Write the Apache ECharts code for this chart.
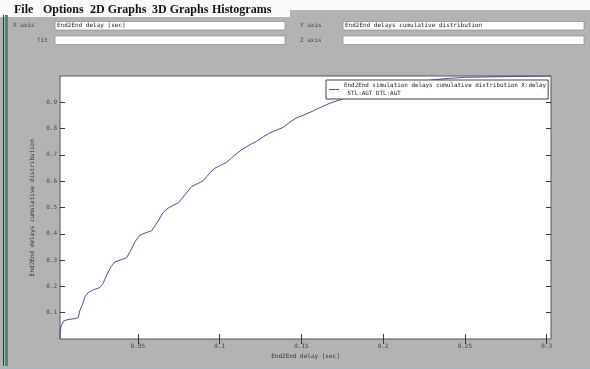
<!DOCTYPE html>
<html>
<head>
<meta charset="utf-8">
<script src="https://cdn.jsdelivr.net/npm/echarts@6.0.0/dist/echarts.min.js"></script>
<style>
html,body{margin:0;padding:0;background:#b3b3b3;}
#c{width:590px;height:369px;}
</style>
</head>
<body>
<div id="c"></div>
<script>
// ---- data ----
const delays = [0.0023,0.0025,0.0030,0.0045,0.0060,0.0084,0.0120,0.0135,0.0145,0.0160,0.0175,0.0195,0.0220,0.0267,0.0285,0.0310,0.0335,0.0359,0.0390,0.0430,0.0450,0.0482,0.0512,0.0545,0.0584,0.0620,0.0655,0.0690,0.0747,0.0790,0.0829,0.0870,0.0900,0.0935,0.0971,0.1005,0.1043,0.1090,0.1135,0.1180,0.1226,0.1270,0.1308,0.1350,0.1390,0.1430,0.1471,0.1515,0.1553,0.1614,0.1680,0.1750,0.1800,0.1900,0.2000,0.2100,0.2200,0.2300,0.2400,0.2500,0.2600,0.2700,0.2800,0.2900,0.3027];
const cdf = [0.000,0.030,0.050,0.068,0.072,0.075,0.078,0.082,0.110,0.130,0.160,0.176,0.185,0.196,0.210,0.245,0.275,0.293,0.300,0.309,0.330,0.370,0.395,0.403,0.412,0.445,0.482,0.500,0.518,0.550,0.580,0.592,0.602,0.628,0.650,0.660,0.672,0.698,0.720,0.737,0.752,0.770,0.784,0.795,0.805,0.825,0.841,0.852,0.862,0.880,0.898,0.912,0.928,0.945,0.958,0.968,0.977,0.985,0.991,0.995,0.996,0.997,0.998,0.999,1.000];
const xTicks = [0.05,0.1,0.15,0.2,0.25,0.3];
const yTicks = [0.1,0.2,0.3,0.4,0.5,0.6,0.7,0.8,0.9];
const seriesName = 'End2End simulation delays cumulative distribution X:delay\n STL:AGT DTL:AGT';
const xName = 'End2End delay [sec]';
const yName = 'End2End delays cumulative distribution';
const menuItems = [['File',14],['Options',43],['2D Graphs',90],['3D Graphs',152],['Histograms',212]];

const mono = 'DejaVu Sans Mono';
const fs = 6;
const lc = '#333';

const chart = echarts.init(document.getElementById('c'));

function txt(x,y,t,color){
  return {type:'text',x:x,y:y,style:{text:t,fontFamily:mono,fontSize:fs,fill:color||'#222',verticalAlign:'middle'}};
}
const graphics = [
  {type:'rect',shape:{x:0,y:0,width:290,height:17},style:{fill:'#fafafa'},z:-10},
  {type:'rect',shape:{x:290,y:0,width:300,height:10},style:{fill:'#fafafa'},z:-10},
  {type:'rect',shape:{x:3,y:15,width:1,height:354},style:{fill:'#2d3b36'}},
  {type:'rect',shape:{x:5,y:15,width:3,height:354},style:{fill:'#4d8a72'}},
  {type:'rect',shape:{x:0,y:366,width:590,height:3},style:{fill:'#a9b3ba'}},
  // fields
  {type:'rect',shape:{x:55,y:21.5,width:230,height:8.5},style:{fill:'#fff',stroke:'#8a8a8a',lineWidth:0.7}},
  {type:'rect',shape:{x:55,y:36,width:230,height:8.5},style:{fill:'#fff',stroke:'#8a8a8a',lineWidth:0.7}},
  {type:'rect',shape:{x:343,y:21.5,width:241,height:8.5},style:{fill:'#fff',stroke:'#8a8a8a',lineWidth:0.7}},
  {type:'rect',shape:{x:343,y:36,width:241,height:8.5},style:{fill:'#fff',stroke:'#8a8a8a',lineWidth:0.7}},
  txt(13,25.5,'X axis','#444'),
  txt(37,40.5,'Tit','#444'),
  txt(300,25.5,'Y axis','#444'),
  txt(300,40.5,'Z axis','#444'),
  txt(57,25.5,xName),
  txt(345,25.5,yName)
];
menuItems.forEach(function(m){
  graphics.push({type:'text',x:m[1],y:10,style:{text:m[0],fontFamily:'Liberation Serif',fontWeight:'bold',fontSize:12,fill:'#111',verticalAlign:'middle'}});
});

chart.setOption({
  animation:false,
  backgroundColor:'#b3b3b3',
  graphic:graphics,
  grid:{left:60,top:76,right:39,bottom:30,show:true,backgroundColor:'#fff',borderColor:'#555',borderWidth:1},
  legend:{
    left:326,top:80,orient:'vertical',
    padding:[2,2,2,3],
    itemWidth:10,itemHeight:1,itemGap:0,
    backgroundColor:'#fff',borderColor:'#444',borderWidth:1,borderRadius:0,
    textStyle:{fontFamily:mono,fontSize:5.9,lineHeight:7.5,color:'#222'},
    data:[{name:seriesName,icon:'rect'}]
  },
  xAxis:[
    {
      type:'value',min:0.0023,max:0.3027,position:'bottom',
      name:xName,nameLocation:'middle',nameGap:13,
      nameTextStyle:{fontFamily:mono,fontSize:fs,color:'#333'},
      axisLine:{show:false},splitLine:{show:false},
      axisTick:{show:true,inside:true,length:5,lineStyle:{color:lc},customValues:xTicks},
      axisLabel:{show:true,margin:4,fontFamily:mono,fontSize:fs,color:'#444',customValues:xTicks,formatter:function(v){return String(v);}}
    },
    {
      type:'value',min:0.0023,max:0.3027,position:'top',
      axisLine:{show:false},splitLine:{show:false},
      axisTick:{show:true,inside:true,length:5,lineStyle:{color:lc},customValues:xTicks},
      axisLabel:{show:false}
    }
  ],
  yAxis:[
    {
      type:'value',min:0,max:1,position:'left',
      name:yName,nameLocation:'middle',nameGap:18,
      nameTextStyle:{fontFamily:mono,fontSize:fs,color:'#333'},
      axisLine:{show:false},splitLine:{show:false},
      axisTick:{show:true,inside:true,length:5,lineStyle:{color:lc},customValues:yTicks},
      axisLabel:{show:true,margin:3,fontFamily:mono,fontSize:fs,color:'#444',customValues:yTicks,formatter:function(v){return String(v);}}
    },
    {
      type:'value',min:0,max:1,position:'right',
      axisLine:{show:false},splitLine:{show:false},
      axisTick:{show:true,inside:true,length:5,lineStyle:{color:lc},customValues:yTicks},
      axisLabel:{show:false}
    }
  ],
  series:[{
    name:seriesName,
    type:'line',
    xAxisIndex:0,yAxisIndex:0,
    showSymbol:false,symbol:'none',
    lineStyle:{color:'#4a4aaa',width:1},
    itemStyle:{color:'#4a4aaa'},
    data:delays.map(function(d,i){return [d,cdf[i]];})
  }]
});
</script>
</body>
</html>
